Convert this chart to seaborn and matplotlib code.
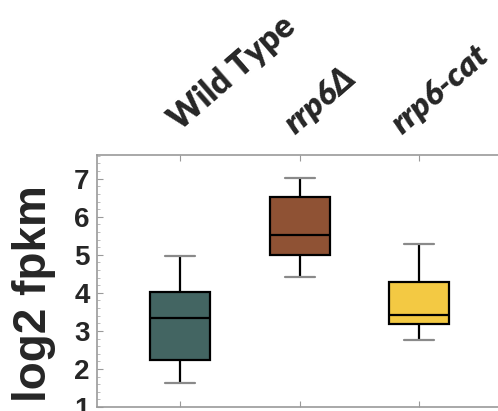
import matplotlib
matplotlib.use("Agg")
import matplotlib.pyplot as plt
import matplotlib.transforms as mtransforms
from matplotlib.ticker import MultipleLocator
import numpy as np
import seaborn as sns
import pandas as pd

# Data (five-number summaries: min, Q1, median, Q3, max)
strains = ["Wild Type", "rrp6Δ", "rrp6-cat"]
wild_type = [1.62, 2.24, 3.35, 4.01, 4.98]
rrp6_delta = [4.41, 4.99, 5.52, 6.53, 7.02]
rrp6_cat = [2.76, 3.18, 3.41, 4.29, 5.28]
colors = ["#436562", "#8f5234", "#f3c943"]
y_ticks = [1, 2, 3, 4, 5, 6, 7]

rows = []
for name, vals in zip(strains, [wild_type, rrp6_delta, rrp6_cat]):
    for v in vals:
        rows.append({"strain": name, "value": v})
df = pd.DataFrame(rows)

sns.set_style("white")
fig = plt.figure(figsize=(4.98, 4.11), dpi=100)
ax = fig.add_axes([0.194, 0.0097, 0.816, 0.613])

sns.boxplot(data=df, x="strain", y="value", hue="strain", palette=colors,
            order=strains, hue_order=strains, legend=False,
            whis=(0, 100), width=0.5, linecolor="black", linewidth=1.6,
            saturation=1, ax=ax,
            capprops=dict(color="#8a8a8a", linewidth=1.6),
            whiskerprops=dict(color="black", linewidth=1.6),
            medianprops=dict(color="black", linewidth=1.6))

# caps in grey (short horizontal lines)
for ln in ax.lines:
    xd = np.asarray(ln.get_xdata(), dtype=float)
    yd = np.asarray(ln.get_ydata(), dtype=float)
    if len(xd) == 2 and yd[0] == yd[1] and abs(xd[1] - xd[0]) < 0.3:
        ln.set_color("#8a8a8a")

ax.set_xlim(-0.7, 2.7)
ax.set_ylim(1.0, 7.62)
ax.set_xlabel("")
ax.set_yticks(y_ticks)
ax.yaxis.set_minor_locator(MultipleLocator(0.2))

for s in ax.spines.values():
    s.set_color("#9a9a9a")
    s.set_linewidth(1.2)

ax.tick_params(axis="y", which="major", direction="in", length=4, color="#9a9a9a",
               left=True, pad=5)
ax.tick_params(axis="y", which="minor", direction="in", length=2, color="#b0b0b0", left=True)
ax.tick_params(axis="x", which="major", direction="in", length=4, color="#9a9a9a",
               top=True, bottom=True, labeltop=True, labelbottom=False, pad=10)

for lbl in ax.get_yticklabels():
    lbl.set_fontfamily("Liberation Sans")
    lbl.set_fontweight("bold")
    lbl.set_fontsize(20)

ax.set_xticks(range(len(strains)))
ax.set_xticklabels(strains)
label_shift_px = [(0, 10), (-4, 6), (-17, 6)]
for i, lbl in enumerate(ax.get_xticklabels()):
    dx, dy = label_shift_px[i]
    offset = mtransforms.ScaledTranslation(dx / 100, dy / 100, fig.dpi_scale_trans)
    lbl.set_rotation(41)
    lbl.set_rotation_mode("anchor")
    lbl.set_ha("left")
    lbl.set_va("baseline")
    lbl.set_fontfamily("Lato")
    lbl.set_fontweight("heavy")
    lbl.set_fontsize(24)
    if i > 0:
        lbl.set_fontstyle("italic")
    lbl.set_transform(lbl.get_transform() + offset)

ax.set_ylabel("log2 fpkm", fontfamily="Liberation Sans", fontweight="bold", fontsize=33)
ax.yaxis.set_label_coords(-0.10, 0.452)

fig.savefig("out.png", dpi=100)
